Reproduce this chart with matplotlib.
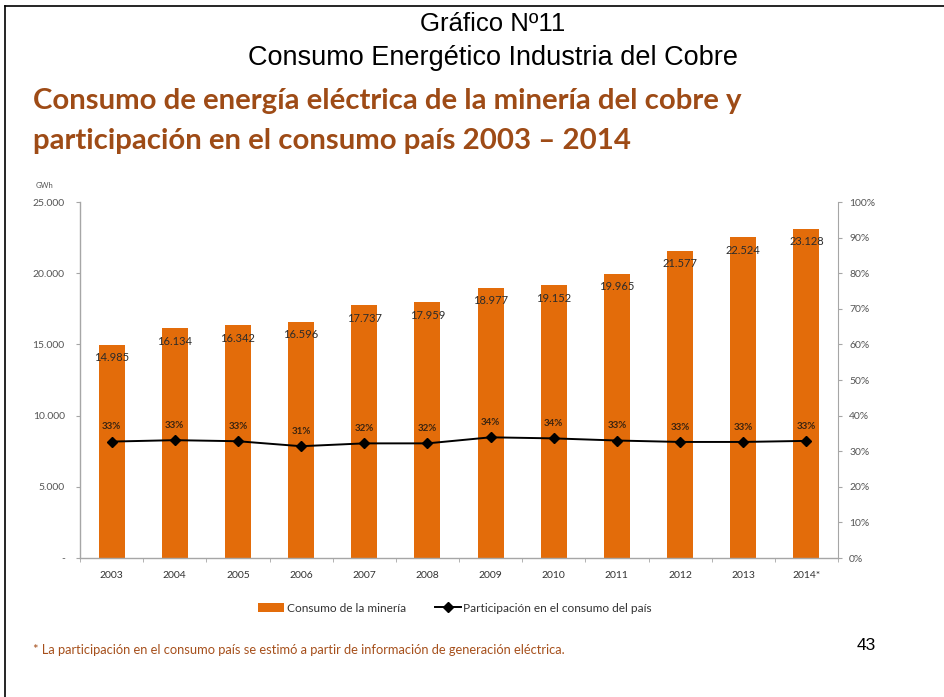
import matplotlib
matplotlib.use("Agg")
import matplotlib.pyplot as plt
from matplotlib.lines import Line2D
from matplotlib.patches import Patch
import numpy as np

years = ["2003", "2004", "2005", "2006", "2007", "2008",
         "2009", "2010", "2011", "2012", "2013", "2014*"]
consumo_gwh = [14985, 16134, 16342, 16596, 17737, 17959,
               18977, 19152, 19965, 21577, 22524, 23128]
participacion_pct = [32.7, 33.1, 32.8, 31.4, 32.2, 32.2,
                     33.9, 33.6, 33.0, 32.6, 32.6, 32.9]
left_ticks = [0, 5000, 10000, 15000, 20000, 25000]
right_ticks = [0, 10, 20, 30, 40, 50, 60, 70, 80, 90, 100]

ORANGE = "#E36C0A"
BROWN = "#9E4B16"
AXIS_GREY = "#A6A6A6"
TICK_TXT = "#555555"
BODY_FONT = "Lato"


def miles(v):
    return f"{v:,}".replace(",", ".")


fig = plt.figure(figsize=(9.44, 6.97), dpi=100)

# page frame (top and left rules)
fig.add_artist(Line2D([5 / 944, 1], [1 - 6 / 697, 1 - 6 / 697],
                      transform=fig.transFigure, color="black", lw=1.2))
fig.add_artist(Line2D([5 / 944, 5 / 944], [0, 1 - 6 / 697],
                      transform=fig.transFigure, color="black", lw=1.2))

fig.text(0.522, 1 - 24 / 697, "Gráfico Nº11", ha="center", va="center",
         fontsize=18.5, family="Liberation Sans")
fig.text(0.522, 1 - 58 / 697, "Consumo Energético Industria del Cobre",
         ha="center", va="center", fontsize=19.5, family="Liberation Sans")

fig.text(33 / 944, 1 - 101 / 697,
         "Consumo de energía eléctrica de la minería del cobre y",
         ha="left", va="center", fontsize=21.2, fontweight="bold",
         color=BROWN, family=BODY_FONT)
fig.text(33 / 944, 1 - 141 / 697,
         "participación en el consumo país 2003 – 2014",
         ha="left", va="center", fontsize=21.2, fontweight="bold",
         color=BROWN, family=BODY_FONT)
fig.text(36 / 944, 1 - 185 / 697, "GWh", ha="left", va="center",
         fontsize=5.5, color=TICK_TXT, family=BODY_FONT)

ax = fig.add_axes([80 / 944, 1 - 558 / 697, (838 - 80) / 944, (558 - 202) / 697])
x = np.arange(len(years))
ax.bar(x, consumo_gwh, width=0.41, color=ORANGE, zorder=2)
ax.set_xlim(-0.5, len(years) - 0.5)
ax.set_ylim(0, 25000)
ax.set_yticks(left_ticks)
ax.set_yticklabels(["-" if t == 0 else miles(t) for t in left_ticks])
ax.set_xticks(x)
ax.set_xticklabels(years)
ax.set_xticks(np.arange(-0.5, len(years), 1.0), minor=True)

for spine in ["top", "right"]:
    ax.spines[spine].set_visible(False)
for spine in ["left", "bottom"]:
    ax.spines[spine].set_color(AXIS_GREY)
    ax.spines[spine].set_linewidth(1.0)
ax.tick_params(axis="y", length=3, color=AXIS_GREY, labelsize=7.5,
               labelcolor=TICK_TXT, pad=8)
ax.tick_params(axis="x", which="major", length=0, labelsize=7.5,
               labelcolor="#333333", pad=9)
ax.tick_params(axis="x", which="minor", length=3, color=AXIS_GREY)
for lab in ax.get_xticklabels() + ax.get_yticklabels():
    lab.set_family(BODY_FONT)

for xi, v in zip(x, consumo_gwh):
    ax.text(xi, v - 900, miles(v), ha="center", va="center", fontsize=8,
            color="#2b2b2b", family=BODY_FONT, zorder=4)

ax2 = ax.twinx()
ax2.set_ylim(0, 100)
ax2.plot(x, participacion_pct, color="black", lw=1.4, marker="D",
         markersize=5.5, zorder=5)
ax2.set_yticks(right_ticks)
ax2.set_yticklabels([f"{t}%" for t in right_ticks])
for spine in ["top", "left", "bottom"]:
    ax2.spines[spine].set_visible(False)
ax2.spines["right"].set_color(AXIS_GREY)
ax2.tick_params(axis="y", length=3, color=AXIS_GREY, labelsize=7.5,
                labelcolor=TICK_TXT, pad=5)
for lab in ax2.get_yticklabels():
    lab.set_family(BODY_FONT)
for xi, p in zip(x, participacion_pct):
    ax2.text(xi, p + 4.1, f"{round(p):.0f}%", ha="center", va="center",
             fontsize=7, fontweight="bold", color="#3b2410",
             family=BODY_FONT)

handles = [Patch(facecolor=ORANGE, edgecolor="none"),
           Line2D([0], [0], color="black", lw=1.4, marker="D", markersize=5)]
leg = fig.legend(handles, ["Consumo de la minería",
                           "Participación en el consumo del país"],
                 loc="center", bbox_to_anchor=(455 / 944, 1 - 608 / 697),
                 ncol=2, frameon=False, handlelength=2.2,
                 handletextpad=0.2, columnspacing=2.4,
                 prop={"family": BODY_FONT, "size": 8.6})
for t in leg.get_texts():
    t.set_color("#333333")

fig.text(33 / 944, 1 - 650 / 697,
         "* La participación en el consumo país se estimó a partir de información de generación eléctrica.",
         ha="left", va="center", fontsize=9.3, color="#A6501C",
         family=BODY_FONT)
fig.text(866 / 944, 1 - 646 / 697, "43", ha="center", va="center",
         fontsize=12.5, family="Liberation Sans")

fig.savefig("out.png", dpi=100)
